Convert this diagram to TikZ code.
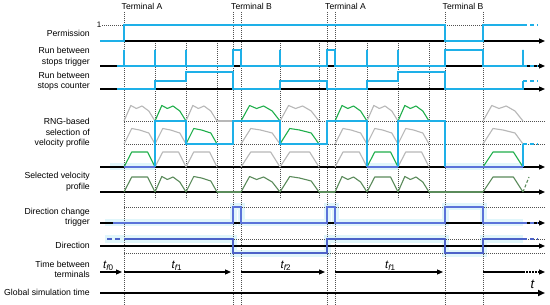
\documentclass[tikz,border=0pt]{standalone}
\usepackage{fontspec}
\setmainfont{Liberation Sans}
\usetikzlibrary{arrows.meta}
\definecolor{lblue}{HTML}{1EB0E8}
\definecolor{dblue}{HTML}{5A73D9}
\definecolor{dirblue}{HTML}{4C62C8}
\definecolor{pgreen}{HTML}{1FAF4B}
\definecolor{sgreen}{HTML}{5A8A5A}
\definecolor{pgrey}{HTML}{B8B8B8}
\definecolor{glowc}{HTML}{E0F6FB}
\definecolor{dotc}{HTML}{505050}
\newcommand\pbump[4]{\draw[#4] (#1,#3) -- ({#1+0.22*(#2-#1)},{#3-15.5}) -- ({#1+0.4*(#2-#1)},{#3-12.5}) -- ({#1+0.58*(#2-#1)},{#3-15}) -- ({#1+0.8*(#2-#1)},{#3-10}) -- (#2,#3);}
\newcommand\pslope[4]{\draw[#4] (#1,#3) -- ({#1+0.25*(#2-#1)},{#3-15.5}) -- ({#1+0.5*(#2-#1)},{#3-14}) -- ({#1+0.8*(#2-#1)},{#3-11}) -- (#2,#3);}
\newcommand\ptrap[4]{\draw[#4] (#1,#3) -- ({#1+0.25*(#2-#1)},{#3-15}) -- ({#1+0.76*(#2-#1)},{#3-15}) -- (#2,#3);}
\begin{document}
\begin{tikzpicture}[x=1pt,y=-1pt,
  lab/.style={anchor=east, align=right, font=\fontsize{8.7}{10.4}\selectfont, inner sep=0pt},
  term/.style={anchor=base west, font=\fontsize{8.6}{10}\selectfont, inner sep=0pt},
  tl/.style={anchor=base west, font=\fontsize{11.5}{12}\selectfont\itshape, inner sep=0pt},
  vline/.style={dotc, line width=0.6pt, dash pattern=on 0.8pt off 1.2pt},
  hdot/.style={dotc, line width=0.6pt, dash pattern=on 0.8pt off 1.2pt},
  axis/.style={black, line width=1.1pt, -{Triangle[length=6pt,width=5pt]}},
  bl/.style={lblue, line width=2pt},
  db/.style={dblue, line width=2pt},
  dr/.style={dirblue, line width=2pt},
  glow/.style={glowc, line width=7pt},
  prof/.style={line width=1.1pt, line join=round},
  cont/.style={dash pattern=on 4pt off 3pt}]
\useasboundingbox (0,0) rectangle (550,305);
\fill[white] (0,0) rectangle (550,305);

% glows
\draw[glow] (105,239) -- (233,239) -- (233,253) -- (327,253) -- (327,239) -- (445,239) -- (445,253) -- (483,253) -- (483,239) -- (523,239);
\draw[glow] (105,223) -- (233,223) -- (233,207) -- (241,207) -- (241,223) -- (327,223) -- (327,207) -- (335,207) -- (335,223) -- (445,223) -- (445,207) -- (483,207) -- (483,223) -- (523,223);
\draw[glow] (110,167) -- (155,167) (367,167) -- (398,167) (445,167) -- (523,167);

% vertical dotted lines
\foreach \x in {124,233,241,327,335,445,483} \draw[vline] (\x,12) -- (\x,305);
\foreach \x in {155,186,217,280,319,367,398,429} \draw[vline] (\x,41) -- (\x,199);

% horizontal dotted lines
\draw[hdot] (102,25) -- (124,25);
\draw[hdot] (445,25) -- (483,25);
\foreach \y in {121,144,207,239,253} \draw[hdot] (124,\y) -- (545,\y);

% axes
\foreach \y in {41,66,89,167,192,223,246} \draw[axis] (100,\y) -- (545,\y);
\draw[black, line width=1.8pt, -{Triangle[length=7pt,width=6pt]}] (100,293) -- (545,293);

% labels
\node[lab] (lperm) at (90,33) {Permission};
\node[lab] (ltrig) at (90,56.8) {Run between\\stops trigger};
\node[lab] (lcount) at (90,81) {Run between\\stops counter};
\node[lab] (lrng) at (90,132.8) {RNG-based\\selection of\\velocity profile};
\node[lab] (lsel) at (90,181.7) {Selected velocity\\profile};
\node[lab] (ldct) at (90,217) {Direction change\\trigger};
\node[lab] (ldir) at (90,245.7) {Direction};
\node[lab] (ltime) at (90,269.5) {Time between\\terminals};
\node[lab] (lglob) at (90,292.5) {Global simulation time};
\node[anchor=east, inner sep=0pt, font=\fontsize{8}{9}\selectfont] (one) at (101.5,24.5) {1};

\node[term] (ta1) at (121.5,9.5) {Terminal A};
\node[term] (tb1) at (231,9.5) {Terminal B};
\node[term] (ta2) at (325,9.5) {Terminal A};
\node[term] (tb2) at (442.5,9.5) {Terminal B};

% permission
\draw[bl] (100,41) -- (124,41) -- (124,25) -- (445,25) -- (445,41) -- (483,41) -- (483,25) -- (523,25);
\draw[bl, cont] (523,25) -- (538,25);

% trigger
\draw[black, line width=1.1pt, dash pattern=on 5pt off 3pt] (100,66) -- (117,66);
\draw[bl] (117,66) -- (124,66) -- (124,50) -- (124,66) -- (155,66) -- (155,50) -- (155,66) -- (186,66) -- (186,50) -- (186,66) -- (233,66) -- (233,50) -- (241,50) -- (241,66) -- (280,66) -- (280,50) -- (280,66) -- (327,66) -- (327,50) -- (335,50) -- (335,66) -- (367,66) -- (367,50) -- (367,66) -- (398,66) -- (398,50) -- (398,66) -- (445,66) -- (445,50) -- (483,50) -- (483,66) -- (523,66) -- (523,50) -- (523,66);
\draw[bl, cont] (523,66) -- (538,66);

% counter
\draw[black, line width=1.1pt, dash pattern=on 5pt off 3pt] (100,89) -- (117,89);
\draw[bl] (117,89) -- (155,89) -- (155,81) -- (186,81) -- (186,72) -- (233,72) -- (233,89) -- (280,89) -- (280,81) -- (327,81) -- (327,89) -- (367,89) -- (367,81) -- (398,81) -- (398,72) -- (445,72) -- (445,89) -- (523,89) -- (523,81);
\draw[bl, cont] (523,81) -- (538,81);

% RNG profiles
\foreach \a/\b in {155/186,241/280,335/367,398/429} \pbump{\a}{\b}{121}{prof,pgreen};
\foreach \a/\b in {124/155,186/217,280/319,367/398,483/523} \pbump{\a}{\b}{121}{prof,pgrey};
\foreach \a/\b in {186/217,280/319} \pslope{\a}{\b}{144}{prof,pgreen};
\foreach \a/\b in {124/155,155/186,241/280,335/367,367/398,398/429,483/523} \pslope{\a}{\b}{144}{prof,pgrey};
\foreach \a/\b in {124/155,367/398,483/523} \ptrap{\a}{\b}{167}{prof,pgreen};
\foreach \a/\b in {155/186,186/217,241/280,280/319,335/367,398/429} \ptrap{\a}{\b}{167}{prof,pgrey};
\draw[prof, pgrey] (217,121) -- (233,121);

% RNG selection line
\draw[bl] (155,167) -- (155,121) -- (186,121) -- (186,144) -- (233,144) -- (233,121) -- (280,121) -- (280,144) -- (327,144) -- (327,121) -- (367,121) -- (367,167) (398,167) -- (398,121) -- (445,121) -- (445,167) (523,167) -- (523,144);
\draw[bl, cont] (523,144) -- (538,144);
\draw[db] (124,167) -- (155,167) (367,167) -- (398,167) (445,167) -- (523,167);

% selected velocity profile
\ptrap{124}{155}{192}{prof,sgreen}
\pbump{155}{186}{192}{prof,sgreen}
\pslope{186}{217}{192}{prof,sgreen}
\pbump{241}{280}{192}{prof,sgreen}
\pslope{280}{319}{192}{prof,sgreen}
\pbump{335}{367}{192}{prof,sgreen}
\ptrap{367}{398}{192}{prof,sgreen}
\pbump{398}{429}{192}{prof,sgreen}
\ptrap{483}{523}{192}{prof,sgreen}
\draw[prof, sgreen] (217,192) -- (241,192) (319,192) -- (335,192) (429,192) -- (483,192);
\draw[prof, sgreen, dash pattern=on 3pt off 2pt] (523,192) -- (529,177);

% direction change trigger
\draw[black, line width=1.1pt, dash pattern=on 5pt off 3pt] (100,223) -- (113,223);
\draw[db] (113,223) -- (233,223) -- (233,207) -- (241,207) -- (241,223) -- (327,223) -- (327,207) -- (335,207) -- (335,223) -- (445,223) -- (445,207) -- (483,207) -- (483,223) -- (523,223);
\draw[db, cont] (523,223) -- (538,223);

% direction
\draw[dr, dash pattern=on 5pt off 3pt] (107,239) -- (122,239);
\draw[dr] (124,239) -- (233,239) -- (233,253) -- (327,253) -- (327,239) -- (445,239) -- (445,253) -- (483,253) -- (483,239) -- (523,239);
\draw[dr, cont] (523,239) -- (538,239);

% time between terminals
\coordinate (s0) at (100,272);
\coordinate (e0) at (122,272);
\coordinate (s1) at (124,272);
\coordinate (e1) at (231,272);
\coordinate (s2) at (241,272);
\coordinate (e2) at (325,272);
\coordinate (s3) at (335,272);
\coordinate (e3) at (443,272);
\coordinate (s4) at (483,272);
\coordinate (m4) at (523,272);
\coordinate (e4) at (545,272);
\foreach \s/\e in {s0/e0,s1/e1,s2/e2,s3/e3} \draw[axis] (\s) -- (\e);
\draw[black, line width=1.1pt] (s4) -- (m4);
\draw[axis, dash pattern=on 1.5pt off 1.5pt] (m4) -- (e4);
\node[tl] (tf0) at (103,268.5) {t\textsubscript{f\upshape 0}};
\node[tl] (tf1) at (171.5,269) {t\textsubscript{f\upshape 1}};
\node[tl] (tf2) at (280.5,269) {t\textsubscript{f\upshape 2}};
\node[tl] (tf1b) at (385,269) {t\textsubscript{f\upshape 1}};
\node[anchor=base west, inner sep=0pt, font=\fontsize{13}{14}\selectfont\itshape] (tg) at (530.5,288) {t};
\end{tikzpicture}
\end{document}
